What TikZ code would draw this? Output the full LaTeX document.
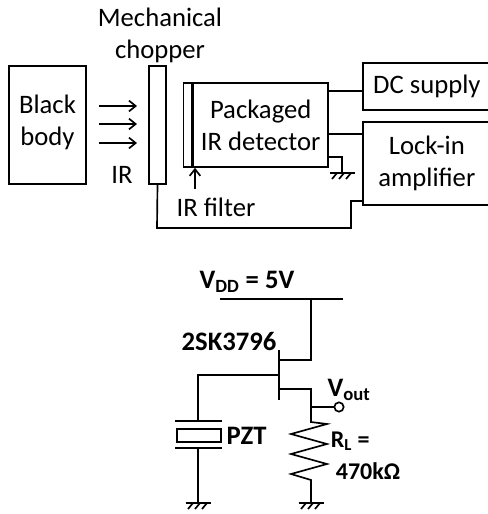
\documentclass[tikz,border=0pt]{standalone}
\usepackage{fontspec}
\setmainfont{Carlito}
\usetikzlibrary{arrows.meta, positioning, calc}

\begin{document}
\begin{tikzpicture}[
    x=0.75pt, y=-0.75pt, >=Stealth, line width=1.25pt,
    box/.style={draw, inner sep=0pt, align=center},
    lbl/.style={font=\fontsize{20}{24}\selectfont, inner sep=0pt, align=center},
    blbl/.style={font=\fontsize{20}{24}\selectfont\bfseries, inner sep=0pt},
    slbl/.style={font=\fontsize{18}{20}\selectfont\bfseries, inner sep=0pt, anchor=west},
    irarrow/.style={->, >={Straight Barb[length=5pt, width=8pt]}},
    gnd/.pic={
      \draw (-12.5,0) -- (12.5,0);
      \draw (-5,0) -- (-10,6) (2,0) -- (-3,6) (9,0) -- (4,6);
    }
  ]
  \useasboundingbox (0,0) rectangle (488,514);
  % top: measurement setup
  \node[box, minimum width=57.75pt, minimum height=88.5pt] (body) at (47.5,125) {};
  \node[lbl] (bodytext) at (47.5,122) {Black\\body};
  \node[box, minimum width=12.75pt, minimum height=88.5pt] (chopper) at (157.5,125) {};
  \node[lbl] (choplabel) at (160,35) {Mechanical\\chopper};
  \node[box, minimum width=6pt, minimum height=63pt] (filter) at (187.5,125) {};
  \node[box, minimum width=101.25pt, minimum height=63pt, lbl, right=0pt of filter] (det)
    {Packaged\\IR detector};
  \node[box, minimum width=96pt, minimum height=35.25pt, lbl, anchor=west] (dc) at (362,86.5)
    {DC supply};
  \node[box, minimum width=96pt, minimum height=62.25pt, lbl, anchor=west] (lockin) at (362,163.5)
    {Lock-in\\amplifier};
  \node[lbl] (irtext) at (122,175) {IR};
  \node[lbl] (filtertext) at (216,207) {IR filter};

  \coordinate (arrA) at (99,106);
  \coordinate (arrB) at (99,124);
  \coordinate (arrC) at (99,143);
  \draw[irarrow] (arrA) -- ++(38,0);
  \draw[irarrow] (arrB) -- ++(38,0);
  \draw[irarrow] (arrC) -- ++(38,0);
  \coordinate (filtertail) at (195,189);
  \draw[irarrow] (filtertail) -- (filtertail |- det.south);

  \coordinate (dcline) at (344,91);
  \coordinate (lockline) at (344,134);
  \draw (dcline -| det.east) -- (dcline -| dc.west);
  \draw (lockline -| det.east) -- (lockline -| lockin.west);
  \coordinate (gndA) at (342,157);
  \coordinate (gndB) at (342,173);
  \draw (gndA -| det.east) -- (gndA) -- (gndB);
  \pic at (gndB) {gnd};
  \coordinate (refA) at (157,228);
  \coordinate (refB) at (351,228);
  \coordinate (refC) at (351,201);
  \draw (chopper.south) -- (refA) -- (refB) -- (refC) -- (refC -| lockin.west);

  % bottom: readout circuit
  \coordinate (vddL) at (220,299);
  \coordinate (vddR) at (343,299);
  \coordinate (vddT) at (311,299);
  \coordinate (drain) at (311,360);
  \coordinate (source) at (311,389);
  \coordinate (outnode) at (311,407);
  \coordinate (resT) at (311,422);
  \coordinate (resB) at (311,480);
  \coordinate (gndR) at (311,503);
  \coordinate (chanT) at (279,350);
  \coordinate (chanB) at (279,400);
  \coordinate (gate) at (279,375);
  \coordinate (gateL) at (198,375);
  \coordinate (pztT) at (198,421);
  \coordinate (pztB) at (198,448);
  \coordinate (gndL) at (198,503);

  \node[blbl] (vddlabel) at (247,282) {V\textsubscript{DD} = 5V};
  \node[blbl] (fetlabel) at (229,341) {2SK3796};
  \node[box, minimum width=33pt, minimum height=9.75pt] (pzt) at (199,435.5) {};
  \node[blbl, right=3pt of pzt] (pztlabel) {PZT};
  \node[draw, circle, fill=white, inner sep=0pt, minimum size=7pt] (out) at (339,407) {};
  \node[blbl] (vout) at (349,390) {V\textsubscript{out}};
  \node[slbl] (rl) at (330,441) {R\textsubscript{L} =};
  \node[slbl] (rval) at (335,471) {470kΩ};

  \draw (vddL) -- (vddR);
  \draw (vddT) -- (drain) -- (drain -| chanT);
  \draw (chanT) -- (chanB);
  \draw (gate) -- (gateL) -- (pztT);
  \draw (source -| chanT) -- (source) -- (resT)
    -- (327,424) -- (291,434) -- (327,444) -- (291,454) -- (327,464) -- (291,474) -- (resB) -- (gndR);
  \draw (outnode) -- (out);
  \draw (175,421) -- (222,421);
  \draw (175,448) -- (222,448);
  \draw (pztB) -- (gndL);
  \pic at (gndL) {gnd};
  \pic at (gndR) {gnd};
\end{tikzpicture}
\end{document}
